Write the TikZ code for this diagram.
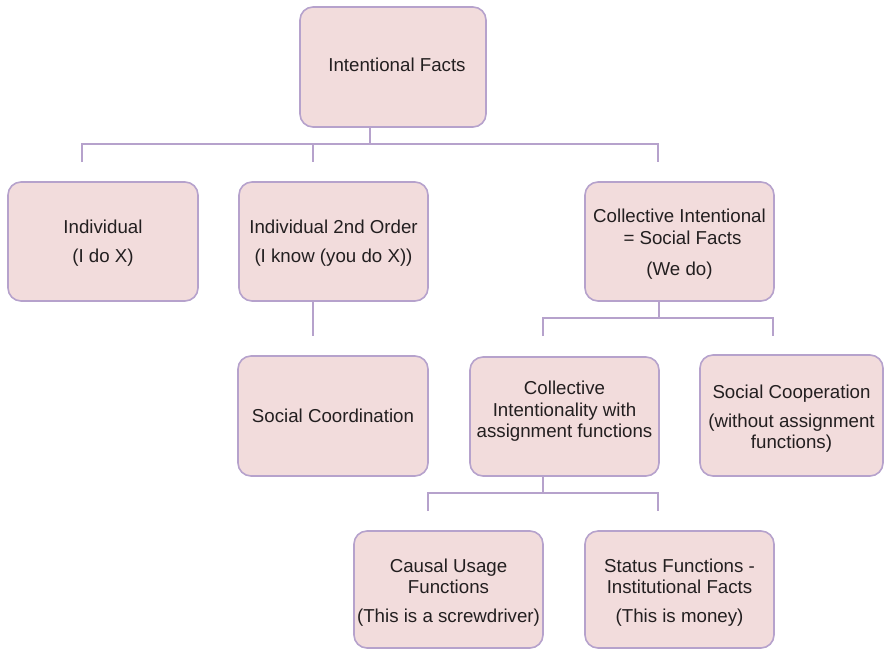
\documentclass[tikz,border=0pt]{standalone}
\usepackage{fontspec}
\setmainfont{Liberation Sans}
\definecolor{boxfill}{HTML}{F2DCDC}
\definecolor{boxline}{HTML}{B6A2CC}
\definecolor{txt}{HTML}{231F20}
\tikzset{
  fact/.style={draw=boxline, fill=boxfill, line width=1.6pt, rounded corners=13pt,
    minimum width=189pt, minimum height=119pt, align=center, inner sep=0pt,
    text=txt, font=\fontsize{18.7}{21.5}\selectfont},
  conn/.style={draw=boxline, line width=1.6pt},
}
\begin{document}
\begin{tikzpicture}[x=1pt, y=-1pt]
\useasboundingbox (0,0) rectangle (886,649);

% boxes
\node[fact, minimum width=186pt, minimum height=120pt, text depth=4pt] (top) at (393,67)
  {\hspace*{8pt}Intentional Facts};
\node[fact, minimum width=190pt] (ind) at (103,241.5)
  {Individual\\[7.5pt](I do X)\\[-21.5pt]};
\node[fact] (ind2) at (333.5,241.5)
  {Individual 2nd Order\\[7.5pt](I know (you do X))\\[-21.5pt]};
\node[fact] (coll) at (679.5,241.5)
  {Collective Intentional\\\hspace*{6pt}= Social Facts\\[9.5pt](We do)\\[-22.5pt]};
\node[fact, minimum width=190pt, minimum height=120pt] (coord) at (333,416) {Social Coordination};
\node[fact] (colint) at (564.5,416.5)
  {Collective\\Intentionality with\\assignment functions\\[-7.5pt]};
\node[fact, minimum width=183pt, minimum height=121pt] (coop) at (791.5,415.5)
  {Social Cooperation\\[7.5pt](without assignment\\functions)\\[-23.5pt]};
\node[fact, minimum height=117pt] (causal) at (448.5,589.5)
  {Causal Usage\\Functions\\[7.5pt](This is a screwdriver)\\[-23.5pt]};
\node[fact, minimum height=117pt] (status) at (679.5,589.5)
  {Status Functions -\\Institutional Facts\\[7.5pt](This is money)\\[-23.5pt]};

% first level bus
\coordinate (j0) at (370,144);
\coordinate (a1) at (82,162);
\coordinate (a2) at (313,162);
\coordinate (a3) at (658,162);
\draw[conn] (top.south -| j0) -- (j0);
\draw[conn] (a1) -- (a1 |- j0) -- (a3 |- j0) -- (a3);
\draw[conn] (a2 |- j0) -- (a2);

% individual 2nd order to social coordination
\coordinate (c1) at (313,336);
\draw[conn] (ind2.south -| c1) -- (c1);

% collective intentional bus
\coordinate (j1) at (659,318);
\coordinate (b1) at (543,336);
\coordinate (b2) at (773,336);
\draw[conn] (coll.south -| j1) -- (j1);
\draw[conn] (b1) -- (b1 |- j1) -- (b2 |- j1) -- (b2);

% collective intentionality bus
\coordinate (j2) at (543,493);
\coordinate (e1) at (428,511);
\coordinate (e2) at (658,511);
\draw[conn] (colint.south -| j2) -- (j2);
\draw[conn] (e1) -- (e1 |- j2) -- (e2 |- j2) -- (e2);
\end{tikzpicture}
\end{document}
